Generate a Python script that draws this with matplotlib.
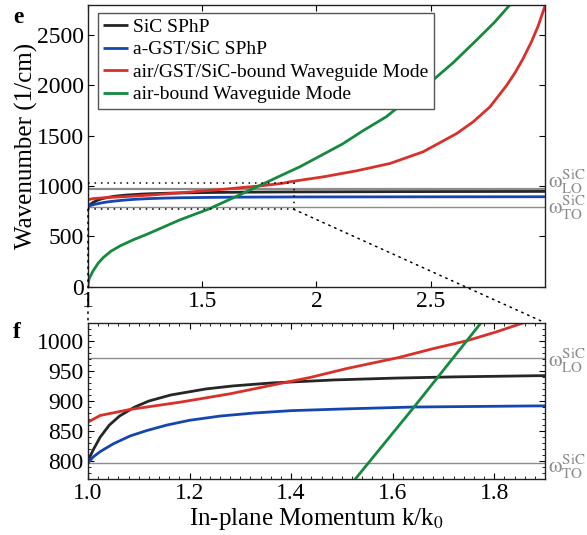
import matplotlib

matplotlib.use("Agg")
import matplotlib.pyplot as plt
from matplotlib.patches import ConnectionPatch, Rectangle
from matplotlib.ticker import MultipleLocator

# --- data --------------------------------------------------------------
sic_k = [1.0, 1.004, 1.011, 1.024, 1.042, 1.062, 1.092, 1.12, 1.163, 1.232,
         1.285, 1.362, 1.485, 1.603, 1.717, 1.883, 2.4, 3.0]
sic_w = [797, 808, 820, 840, 860, 875, 890, 900, 910, 920,
         925, 930, 935, 938, 940, 942, 945, 947]

gst_k = [1.0, 1.01, 1.024, 1.05, 1.083, 1.116, 1.155, 1.2, 1.26, 1.326,
         1.4, 1.51, 1.64, 1.77, 1.9, 2.4, 3.0]
gst_w = [797, 807, 816, 829, 842, 851, 860, 868, 875, 880,
         884, 887, 890, 891, 892, 893, 894]

wg_k = [1.0, 1.024, 1.083, 1.181, 1.28, 1.378, 1.437, 1.51, 1.611, 1.68,
        1.746, 1.805, 1.858, 1.884, 2.03, 2.176, 2.322, 2.467, 2.614,
        2.686, 2.759, 2.832, 2.87, 2.905, 2.94, 2.97, 3.0]
wg_w = [865, 876, 886, 898, 912, 929, 939, 954, 972, 987,
        1000, 1015, 1030, 1043, 1092, 1152, 1225, 1341, 1523,
        1639, 1787, 2000, 2130, 2270, 2430, 2590, 2790]

air_k = [1.0, 1.001, 1.005, 1.023, 1.045, 1.067, 1.1, 1.14, 1.2, 1.257,
         1.403, 1.526, 1.645, 1.746, 1.84, 1.93, 2.115, 2.2, 2.306, 2.4,
         2.51, 2.6, 2.70, 2.78, 2.846]
air_w = [0, 35, 80, 160, 235, 290, 352, 405, 468, 520,
         665, 770, 893, 1000, 1100, 1195, 1420, 1545, 1690, 1862,
         2054, 2230, 2450, 2630, 2800]

labels = ["SiC SPhP", "a-GST/SiC SPhP",
          "air/GST/SiC-bound Waveguide Mode", "air-bound Waveguide Mode"]

W_LO = 972
W_TO = 797
ZOOM_K = (1.0, 1.9)
ZOOM_W = (770, 1030)

BLACK = "#262626"
BLUE = "#1546b0"
RED = "#d8302a"
GREEN = "#158a3e"
GREY = "#8c8c8c"

plt.rcParams.update({
    "font.family": "Liberation Serif",
    "mathtext.fontset": "stix",
    "font.size": 17,
    "axes.linewidth": 1.0,
    "axes.edgecolor": "#222222",
})

fig = plt.figure(figsize=(5.87, 5.35), dpi=100)
ax1 = fig.add_axes([0.1499, 0.4641, 0.7785, 0.5266])
ax2 = fig.add_axes([0.1499, 0.1041, 0.7785, 0.2927])

series = [(sic_k, sic_w, BLACK), (gst_k, gst_w, BLUE),
          (wg_k, wg_w, RED), (air_k, air_w, GREEN)]

# label offsets (points) so the two omega labels sit as in the reference
label_dy = {ax1: (5, -1), ax2: (-2, -3)}

for ax, lo_lw in ((ax1, 1.6), (ax2, 1.0)):
    ax.axhline(W_LO, color=GREY, lw=lo_lw, zorder=1)
    ax.axhline(W_TO, color=GREY, lw=1.0, zorder=1)
    for (k, w, c), lab in zip(series, labels):
        ax.plot(k, w, color=c, lw=2.0, label=lab, zorder=2, solid_capstyle="butt")
    ax.tick_params(direction="in", top=True, right=True, length=4, width=0.8,
                   labelsize=17, pad=3)
    for (name, lev), dy in zip((("LO", W_LO), ("TO", W_TO)), label_dy[ax]):
        ax.annotate(r"$\mathrm{ω}_{\rm %s}^{\rm SiC}$" % name, xy=(1.0, lev),
                    xycoords=ax.get_yaxis_transform(), xytext=(2, dy),
                    textcoords="offset points", color=GREY, fontsize=15.5,
                    ha="left", va="center", annotation_clip=False)

# top panel
ax1.set_xlim(1, 3)
ax1.set_ylim(0, 2800)
ax1.set_xticks([1, 1.5, 2, 2.5])
ax1.set_xticklabels(["1", "1.5", "2", "2.5"])
ax1.set_yticks([0, 500, 1000, 1500, 2000, 2500])
ax1.set_ylabel("Wavenumber (1/cm)", fontsize=18, labelpad=-1)
ax1.legend(loc="upper left", bbox_to_anchor=(0.021, 0.973), borderaxespad=0,
           fontsize=14, frameon=True, fancybox=False, edgecolor="#555555",
           framealpha=1, handlelength=1.25, handletextpad=0.25,
           labelspacing=0.25, borderpad=0.3)

dots = (0, (1, 3.2))
ax1.add_patch(Rectangle((ZOOM_K[0], ZOOM_W[0]), ZOOM_K[1] - ZOOM_K[0],
                        ZOOM_W[1] - ZOOM_W[0], fill=False, ec="black",
                        lw=1.1, ls=dots, zorder=3))

# bottom panel
ax2.set_xlim(*ZOOM_K)
ax2.set_ylim(*ZOOM_W)
ax2.set_xticks([1.0, 1.2, 1.4, 1.6, 1.8])
ax2.set_xticklabels(["1.0", "1.2", "1.4", "1.6", "1.8"])
ax2.set_yticks([800, 850, 900, 950, 1000])
ax2.xaxis.set_minor_locator(MultipleLocator(0.02))
ax2.yaxis.set_minor_locator(MultipleLocator(10))
ax2.tick_params(which="minor", direction="in", top=True, right=True,
                length=2, width=0.6)
ax2.set_xlabel(r"In-plane Momentum k/k$_0$", fontsize=18, labelpad=1)

for kx in ZOOM_K:
    con = ConnectionPatch(xyA=(kx, ZOOM_W[0]), coordsA=ax1.transData,
                          xyB=(kx, ZOOM_W[1]), coordsB=ax2.transData,
                          color="black", lw=1.1, ls=dots)
    fig.add_artist(con)

fig.text(0.022, 0.968, "e", fontsize=17, fontweight="bold", va="center")
fig.text(0.022, 0.378, "f", fontsize=17, fontweight="bold", va="center")

fig.savefig("out.png", dpi=100)
